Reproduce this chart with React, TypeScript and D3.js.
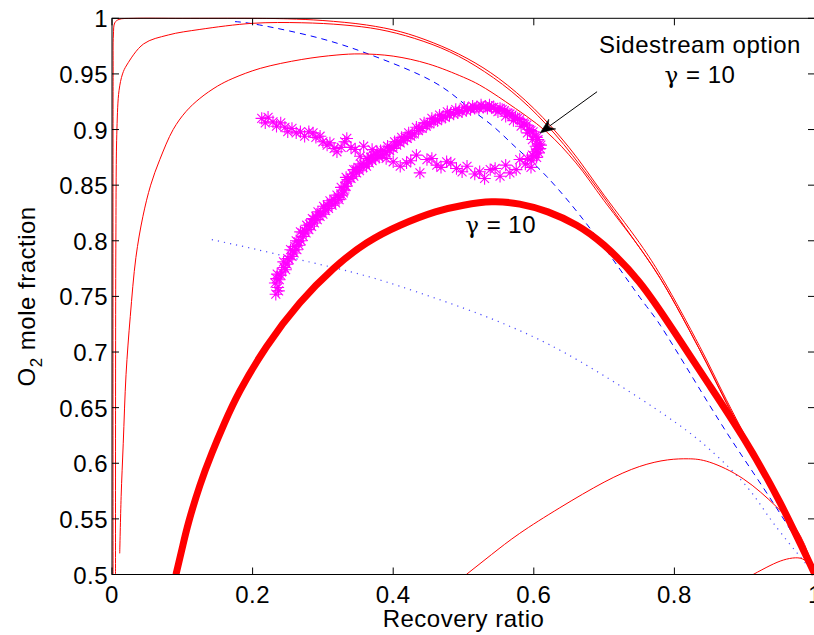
import React from 'react';
import * as d3 from 'd3';

type P = [number, number];

const xTicks = [0, 0.2, 0.4, 0.6, 0.8, 1];
const xTickLabels = ['0', '0.2', '0.4', '0.6', '0.8', '1'];
const yTicks = [0.5, 0.55, 0.6, 0.65, 0.7, 0.75, 0.8, 0.85, 0.9, 0.95, 1];
const yTickLabels = ['0.5', '0.55', '0.6', '0.65', '0.7', '0.75', '0.8', '0.85', '0.9', '0.95', '1'];

const curveA: P[] = [[0.0015,0.5],[0.0016,0.95],[0.002,0.985],[0.004,0.996],[0.01,0.999],[0.03,1.0],[0.1,1.0],[0.2,1.0],[0.25,0.9995],[0.3,0.998],[0.362,0.994],[0.41,0.988],[0.457,0.978],[0.505,0.964],[0.55,0.946],[0.6,0.919],[0.65,0.884],[0.7,0.841],[0.756,0.793],[0.784,0.765],[0.836,0.705],[0.874,0.657],[0.93,0.589],[0.97,0.54],[1.0,0.5]];
const curveB: P[] = [[0.005,0.5],[0.0055,0.8],[0.007,0.9],[0.01,0.935],[0.015,0.95],[0.021,0.958],[0.045,0.977],[0.08,0.985],[0.125,0.99],[0.2,0.9955],[0.27,0.996],[0.33,0.994],[0.38,0.99],[0.43,0.982],[0.48,0.97],[0.53,0.952],[0.58,0.928],[0.63,0.896],[0.68,0.856],[0.73,0.812],[0.78,0.766],[0.836,0.702],[0.874,0.654],[0.93,0.587],[0.97,0.538],[1.0,0.5]];
const curveC: P[] = [[0.011,0.519],[0.013,0.57],[0.016,0.618],[0.02,0.68],[0.026,0.732],[0.034,0.785],[0.044,0.822],[0.055,0.85],[0.068,0.873],[0.087,0.9],[0.105,0.916],[0.125,0.928],[0.15,0.939],[0.172,0.946],[0.211,0.955],[0.27,0.963],[0.32,0.967],[0.353,0.968],[0.4,0.966],[0.45,0.959],[0.5,0.947],[0.523,0.94],[0.56,0.925],[0.618,0.898],[0.66,0.87],[0.7,0.836],[0.756,0.789],[0.784,0.762],[0.836,0.702],[0.874,0.655],[0.93,0.588],[0.97,0.539],[1.0,0.5]];
const curveE: P[] = [[0.504,0.5],[0.54,0.518],[0.58,0.537],[0.637,0.56],[0.7,0.583],[0.75,0.597],[0.79,0.603],[0.82,0.604],[0.85,0.601],[0.898,0.586],[0.945,0.561],[0.979,0.535],[1.0,0.5]];
const curveF: P[] = [[0.912,0.5],[0.936,0.508],[0.955,0.513],[0.972,0.515],[0.985,0.513],[0.995,0.506],[1.0,0.5]];
const gamma10: P[] = [[0.091,0.5],[0.1,0.524],[0.109,0.547],[0.125,0.58],[0.142,0.609],[0.16,0.636],[0.182,0.665],[0.22,0.705],[0.267,0.744],[0.315,0.775],[0.362,0.798],[0.41,0.814],[0.46,0.826],[0.5,0.832],[0.54,0.835],[0.58,0.833],[0.62,0.826],[0.661,0.814],[0.7,0.796],[0.75,0.763],[0.8,0.718],[0.85,0.67],[0.9,0.621],[0.95,0.565],[1.0,0.5]];
const dashedBlue: P[] = [[0.175,0.997],[0.21,0.994],[0.296,0.982],[0.377,0.965],[0.457,0.943],[0.505,0.921],[0.542,0.903],[0.576,0.883],[0.618,0.858],[0.685,0.807],[0.751,0.749],[0.78,0.724],[0.827,0.676],[0.874,0.628],[0.918,0.586],[0.969,0.536],[1.0,0.5]];
const dottedBlue: P[] = [[0.142,0.801],[0.2,0.793],[0.267,0.783],[0.34,0.772],[0.41,0.759],[0.502,0.739],[0.57,0.722],[0.642,0.70],[0.732,0.666],[0.803,0.636],[0.851,0.612],[0.903,0.579],[0.941,0.546],[1.0,0.5]];

const starsMain: P[] = [[0.233,0.752],[0.236,0.758],[0.232,0.762],[0.238,0.765],[0.235,0.770],[0.241,0.772],[0.245,0.776],[0.249,0.779],[0.244,0.781],[0.252,0.783],[0.256,0.786],[0.259,0.789],[0.254,0.792],[0.263,0.792],[0.266,0.796],[0.262,0.800],[0.269,0.800],[0.272,0.804],[0.268,0.808],[0.276,0.807],[0.280,0.810],[0.277,0.814],[0.284,0.813],[0.288,0.816],[0.285,0.820],[0.292,0.819],[0.296,0.822],[0.293,0.826],[0.300,0.824],[0.304,0.827],[0.301,0.831],[0.308,0.829],[0.313,0.832],[0.310,0.836],[0.318,0.834],[0.323,0.837],[0.320,0.841],[0.327,0.841],[0.330,0.845],[0.326,0.848],[0.333,0.849],[0.336,0.853],[0.333,0.857],[0.340,0.856],[0.344,0.858],[0.348,0.861],[0.344,0.864],[0.352,0.863],[0.357,0.866],[0.354,0.869],[0.362,0.867],[0.366,0.870],[0.363,0.874],[0.370,0.872],[0.375,0.874],[0.372,0.877],[0.380,0.875],[0.385,0.877],[0.382,0.881],[0.390,0.879],[0.395,0.881],[0.392,0.885],[0.400,0.883],[0.405,0.886],[0.402,0.889],[0.410,0.888],[0.415,0.890],[0.412,0.893],[0.420,0.892],[0.425,0.894],[0.422,0.897],[0.430,0.896],[0.436,0.899],[0.433,0.902],[0.441,0.901],[0.447,0.903],[0.444,0.906],[0.452,0.905],[0.458,0.907],[0.455,0.910],[0.463,0.908],[0.469,0.910],[0.466,0.913],[0.474,0.911],[0.480,0.913],[0.477,0.916],[0.486,0.914],[0.492,0.915],[0.489,0.918],[0.498,0.916],[0.504,0.917],[0.501,0.920],[0.510,0.918],[0.516,0.919],[0.513,0.921],[0.522,0.919],[0.528,0.920],[0.525,0.922],[0.534,0.919],[0.540,0.920],[0.537,0.922],[0.546,0.918],[0.552,0.919],[0.549,0.916],[0.558,0.917],[0.563,0.915],[0.560,0.912],[0.569,0.913],[0.574,0.911],[0.571,0.908],[0.580,0.909],[0.585,0.906],[0.582,0.903],[0.590,0.904],[0.594,0.900],[0.591,0.897],[0.599,0.898],[0.602,0.894],[0.598,0.891],[0.606,0.891],[0.608,0.887],[0.603,0.885],[0.609,0.883],[0.607,0.879],[0.602,0.880],[0.604,0.875],[0.598,0.877],[0.597,0.872],[0.591,0.874]];
const starsMain2: P[] = [[0.237,0.755],[0.234,0.766],[0.240,0.769],[0.247,0.774],[0.250,0.784],[0.257,0.791],[0.260,0.795],[0.265,0.799],[0.271,0.807],[0.274,0.809],[0.281,0.815],[0.287,0.819],[0.290,0.822],[0.297,0.825],[0.303,0.829],[0.306,0.832],[0.312,0.834],[0.316,0.837],[0.322,0.839],[0.329,0.843],[0.331,0.849],[0.335,0.855],[0.342,0.860],[0.347,0.864],[0.350,0.866],[0.358,0.869],[0.365,0.872],[0.368,0.875],[0.377,0.877],[0.387,0.881],[0.397,0.884],[0.407,0.889],[0.417,0.893],[0.427,0.896],[0.438,0.901],[0.449,0.905],[0.460,0.909],[0.471,0.912],[0.482,0.915],[0.494,0.917],[0.506,0.919],[0.519,0.920],[0.531,0.921],[0.543,0.920],[0.555,0.918],[0.566,0.914],[0.577,0.910],[0.587,0.905],[0.596,0.899],[0.604,0.893],[0.610,0.886],[0.605,0.882],[0.600,0.876]];
const starsLower: P[] = [[0.596,0.866],[0.588,0.869],[0.580,0.873],[0.575,0.864],[0.566,0.861],[0.560,0.868],[0.552,0.858],[0.545,0.865],[0.538,0.864],[0.530,0.856],[0.523,0.862],[0.516,0.860],[0.505,0.867],[0.498,0.862],[0.490,0.865],[0.482,0.870],[0.476,0.871],[0.468,0.866],[0.462,0.868],[0.455,0.874],[0.448,0.873],[0.438,0.861],[0.433,0.877],[0.425,0.872],[0.419,0.870],[0.410,0.867],[0.400,0.871],[0.390,0.874],[0.377,0.880],[0.370,0.882],[0.358,0.885],[0.353,0.876]];
const starsUpper: P[] = [[0.213,0.910],[0.218,0.906],[0.222,0.911],[0.229,0.907],[0.234,0.903],[0.240,0.906],[0.246,0.902],[0.250,0.898],[0.256,0.901],[0.262,0.897],[0.268,0.898],[0.274,0.894],[0.280,0.898],[0.286,0.897],[0.290,0.893],[0.296,0.894],[0.300,0.889],[0.306,0.886],[0.310,0.888],[0.316,0.883],[0.320,0.880],[0.326,0.884],[0.331,0.889],[0.334,0.892],[0.340,0.884],[0.346,0.882]];

const arrowFrom: P = [0.690, 0.934];
const arrowTo: P = [0.609, 0.897];

const W = 814, H = 635;
const FONT = 'Liberation Sans, Arial, Helvetica, sans-serif';
const GREEK = 'DejaVu Serif, serif';

export default function App() {
  const x = d3.scaleLinear().domain([0, 1]).range([112, 815]);
  const y = d3.scaleLinear().domain([0.5, 1]).range([574.5, 18.3]);
  const lineCR = d3.line<P>().x(d => x(d[0])).y(d => y(d[1])).curve(d3.curveCatmullRom.alpha(0.5));
  const lineN = d3.line<P>().x(d => x(d[0])).y(d => y(d[1])).curve(d3.curveNatural);

  const x0 = x(0), x1 = x(1), y0 = y(0.5), y1 = y(1);
  const tick = 7;

  const star = (p: P, i: number) => {
    const cx = x(p[0]), cy = y(p[1]);
    const r = 6.2, d = r * 0.72;
    return (
      <path key={i} d={`M${cx - r},${cy}L${cx + r},${cy}M${cx},${cy - r}L${cx},${cy + r}M${cx - d},${cy - d}L${cx + d},${cy + d}M${cx - d},${cy + d}L${cx + d},${cy - d}`}
        stroke="#ff00ff" strokeWidth={1.1} fill="none" />
    );
  };

  const ax0 = x(arrowFrom[0]), ay0 = y(arrowFrom[1]);
  const ax1 = x(arrowTo[0]), ay1 = y(arrowTo[1]);
  const len = Math.hypot(ax1 - ax0, ay1 - ay0);
  const ux = (ax1 - ax0) / len, uy = (ay1 - ay0) / len;
  const nx = -uy, ny = ux;
  const hl = 15, hw = 6, notch = 10;
  const head = `M${ax1},${ay1}L${ax1 - ux * hl + nx * hw},${ay1 - uy * hl + ny * hw}L${ax1 - ux * notch},${ay1 - uy * notch}L${ax1 - ux * hl - nx * hw},${ay1 - uy * hl - ny * hw}Z`;

  const gammaLabel = (gx: number, gy: number) => (
    <text x={gx} y={gy} textAnchor="middle" fontSize={24} letterSpacing={0.5} fill="#000">
      <tspan fontFamily={GREEK} fontSize={23}>γ</tspan> = 10
    </text>
  );

  return (
    <svg width={W} height={H} style={{ position: 'absolute', left: 0, top: 0, background: '#fff' }} fontFamily={FONT}>
      <rect x={0} y={0} width={W} height={H} fill="#fff" />
      <defs>
        <clipPath id="plot">
          <rect x={x0 - 1} y={y1 - 1} width={x1 - x0 + 2} height={y0 - y1 + 2} />
        </clipPath>
      </defs>
      <g clipPath="url(#plot)">
        <path d={lineN(dottedBlue) || ''} stroke="#0000ff" strokeOpacity={0.7} strokeWidth={1.2} strokeDasharray="1.2,5" fill="none" />
        <path d={lineN(dashedBlue) || ''} stroke="#0000ff" strokeWidth={1} strokeDasharray="6,5" fill="none" />
        {[curveA, curveB, curveC].map((c, i) => (
          <path key={i} d={lineCR(c) || ''} stroke="#ff0000" strokeWidth={1} fill="none" />
        ))}
        {[curveE, curveF].map((c, i) => (
          <path key={'n' + i} d={lineN(c) || ''} stroke="#ff0000" strokeWidth={1} fill="none" />
        ))}
        <path d={lineN(gamma10) || ''} stroke="#ff0000" strokeWidth={7} fill="none" />
        {starsUpper.map(star)}
        {starsLower.map(star)}
        {starsMain.map(star)}
        {starsMain2.map(star)}
      </g>
      <rect x={x0} y={y1} width={x1 - x0} height={y0 - y1} fill="none" stroke="#000" strokeWidth={1} />
      {xTicks.map((t, i) => (
        <g key={'xt' + i}>
          <line x1={x(t)} x2={x(t)} y1={y0} y2={y0 - tick} stroke="#000" />
          <line x1={x(t)} x2={x(t)} y1={y1} y2={y1 + tick} stroke="#000" />
          <text x={x(t)} y={603} textAnchor="middle" fontSize={24} letterSpacing={0.5} fill="#000">{xTickLabels[i]}</text>
        </g>
      ))}
      {yTicks.map((t, i) => (
        <g key={'yt' + i}>
          <line x1={x0} x2={x0 + tick} y1={y(t)} y2={y(t)} stroke="#000" />
          <line x1={x1} x2={x1 - tick} y1={y(t)} y2={y(t)} stroke="#000" />
          <text x={108} y={y(t) + 9} textAnchor="end" fontSize={24} letterSpacing={0.5} fill="#000">{yTickLabels[i]}</text>
        </g>
      ))}
      <text x={(x0 + x1) / 2} y={627} textAnchor="middle" fontSize={24} letterSpacing={0.5} fill="#000">Recovery ratio</text>
      <text transform={`translate(35,${(y0 + y1) / 2}) rotate(-90)`} textAnchor="middle" fontSize={24} letterSpacing={0.5} fill="#000">
        O<tspan fontSize={17} dy={7}>2</tspan><tspan dy={-7}> mole fraction</tspan>
      </text>
      <text x={x(0.8364)} y={y(0.9688)} textAnchor="middle" fontSize={24} letterSpacing={0.5} fill="#000">Sidestream option</text>
      {gammaLabel(x(0.8364), y(0.9416))}
      {gammaLabel(x(0.5528), y(0.8067))}
      <line x1={ax0} y1={ay0} x2={ax1 - ux * notch} y2={ay1 - uy * notch} stroke="#000" strokeWidth={1} />
      <path d={head} fill="#000" stroke="#000" strokeWidth={0.5} />
    </svg>
  );
}
